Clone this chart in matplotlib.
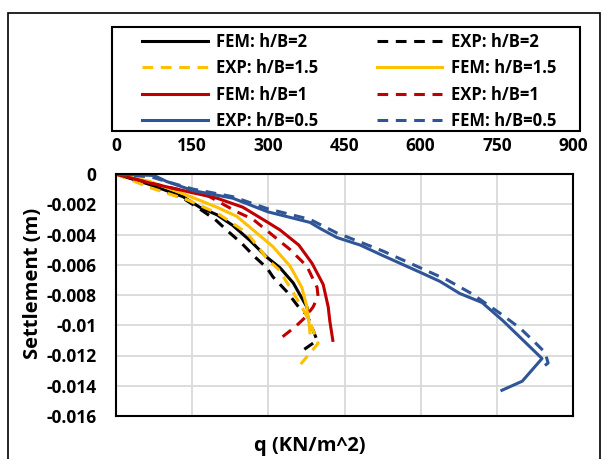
import matplotlib
matplotlib.use("Agg")
import matplotlib.pyplot as plt
from matplotlib.patches import Rectangle

plt.rcParams['font.family'] = ['Open Sans', 'DejaVu Sans']
plt.rcParams['font.weight'] = 'bold'

# ---- data (q in KN/m^2, settlement in m) ----
fem_2_q = [0, 67, 132, 165, 199, 230, 264, 297, 323, 349, 376, 378]
fem_2_s = [0, -0.0007, -0.0015, -0.0022, -0.0027, -0.0034, -0.0044, -0.0055, -0.0062, -0.0072, -0.0088, -0.0091]

exp_2_q = [0, 67, 132, 160, 195, 221, 248, 274, 297, 309, 337, 362, 376, 396, 362]
exp_2_s = [0, -0.0008, -0.0016, -0.0022, -0.0030, -0.0038, -0.0046, -0.0055, -0.0062, -0.0068, -0.0078, -0.0089, -0.0093, -0.0110, -0.0118]

fem_15_q = [0, 67, 132, 199, 238, 270, 309, 343, 366, 376, 380, 382]
fem_15_s = [0, -0.0005, -0.0013, -0.0022, -0.0028, -0.0037, -0.0048, -0.0061, -0.0075, -0.0088, -0.0098, -0.0105]

exp_15_q = [0, 67, 140, 200, 258, 284, 300, 320, 343, 366, 382, 398, 358]
exp_15_s = [0, -0.0009, -0.0017, -0.0026, -0.0039, -0.0050, -0.0057, -0.0063, -0.0075, -0.0088, -0.0098, -0.0112, -0.0128]

fem_1_q = [0, 67, 146, 199, 250, 299, 323, 360, 386, 408, 418, 421, 427]
fem_1_s = [0, -0.0006, -0.0012, -0.0016, -0.0022, -0.0032, -0.0037, -0.0047, -0.0059, -0.0073, -0.0088, -0.0097, -0.0110]

exp_1_q = [0, 67, 120, 179, 238, 270, 303, 343, 376, 396, 398, 388, 372, 353, 319]
exp_1_s = [0, -0.0006, -0.0010, -0.0014, -0.0025, -0.0030, -0.0039, -0.0050, -0.0061, -0.0075, -0.0081, -0.0088, -0.0095, -0.0101, -0.0110]

exp_05_q = [0, 75, 100, 152, 230, 299, 382, 402, 435, 481, 526, 599, 638, 677, 721, 762, 839, 800, 760]
exp_05_s = [0, -0.0001, -0.0005, -0.0011, -0.0016, -0.0025, -0.0032, -0.0036, -0.0042, -0.0047, -0.0054, -0.0065, -0.0071, -0.0079, -0.0085, -0.0097, -0.0122, -0.0137, -0.0143]

fem_05_q = [0, 70, 100, 152, 230, 299, 382, 435, 481, 526, 599, 652, 700, 756, 796, 821, 845, 851, 839]
fem_05_s = [0, -0.0002, -0.0005, -0.0010, -0.0015, -0.0023, -0.0030, -0.0039, -0.0045, -0.0051, -0.0062, -0.0070, -0.0079, -0.0092, -0.0102, -0.0110, -0.0118, -0.0125, -0.0128]

x_ticks = [0, 150, 300, 450, 600, 750, 900]
y_ticks = [0, -0.002, -0.004, -0.006, -0.008, -0.010, -0.012, -0.014, -0.016]
y_tick_labels = ['0', '-0.002', '-0.004', '-0.006', '-0.008', '-0.01', '-0.012', '-0.014', '-0.016']

BLACK = '#000000'
YELLOW = '#FFC000'
RED = '#C00000'
BLUE = '#2F5597'
LW = 2.2
DASH = (3.5, 2.5)

W, H = 603, 459
fig = plt.figure(figsize=(W / 100, H / 100), dpi=100)

def fx(px):
    return px / W

def fy(py):
    return 1 - py / H

# outer frame
fig.patches.append(Rectangle((fx(8), fy(470)), fx(600) - fx(8), fy(13) - fy(470),
                             transform=fig.transFigure, fill=False, edgecolor='black', lw=1.2))

ax = fig.add_axes([fx(116), fy(416), fx(573) - fx(116), fy(174) - fy(416)])

series = [
    (fem_2_q, fem_2_s, BLACK, '-', 'FEM: h/B=2'),
    (exp_2_q, exp_2_s, BLACK, '--', 'EXP: h/B=2'),
    (exp_15_q, exp_15_s, YELLOW, '--', 'EXP: h/B=1.5'),
    (fem_15_q, fem_15_s, YELLOW, '-', 'FEM: h/B=1.5'),
    (fem_1_q, fem_1_s, RED, '-', 'FEM: h/B=1'),
    (exp_1_q, exp_1_s, RED, '--', 'EXP: h/B=1'),
    (exp_05_q, exp_05_s, BLUE, '-', 'EXP: h/B=0.5'),
    (fem_05_q, fem_05_s, BLUE, '--', 'FEM: h/B=0.5'),
]

handles = {}
for q, s, c, ls, lab in series:
    if ls == '--':
        ln, = ax.plot(q, s, color=c, lw=LW, dashes=DASH, label=lab)
    else:
        ln, = ax.plot(q, s, color=c, lw=LW, label=lab)
    handles[lab] = ln

ax.set_xlim(0, 900)
ax.set_ylim(-0.016, 0)
ax.set_xticks(x_ticks)
ax.set_yticks(y_ticks)
ax.set_yticklabels(y_tick_labels)
ax.xaxis.tick_top()
ax.tick_params(axis='both', length=0, labelsize=12.5)
ax.tick_params(axis='x', pad=14)
ax.tick_params(axis='y', pad=14)
for lab in ax.get_xticklabels() + ax.get_yticklabels():
    lab.set_fontweight('bold')
ax.grid(True, color='#d9d9d9', lw=1.3)
ax.set_axisbelow(True)
for sp in ax.spines.values():
    sp.set_color('black')
    sp.set_linewidth(1.5)

fig.text(fx(310), fy(446), 'q (KN/m^2)', ha='center', va='center', fontsize=14.5, fontweight='bold')
fig.text(fx(33), fy(283), 'Settlement (m)', ha='center', va='center', rotation=90,
         fontsize=14.5, fontweight='bold')

# legend box
fig.patches.append(Rectangle((fx(112), fy(131)), fx(580) - fx(112), fy(27) - fy(131),
                             transform=fig.transFigure, fill=False, edgecolor='black', lw=1.5))
order = ['FEM: h/B=2', 'EXP: h/B=1.5', 'FEM: h/B=1', 'EXP: h/B=0.5',
         'EXP: h/B=2', 'FEM: h/B=1.5', 'EXP: h/B=1', 'FEM: h/B=0.5']
leg = fig.legend([handles[k] for k in order], order, ncol=2, frameon=False,
                 loc='upper left', bbox_to_anchor=(fx(142), fy(33)),
                 borderpad=0, borderaxespad=0, handlelength=3.95, handletextpad=0.5,
                 columnspacing=3.5, labelspacing=0.5,
                 prop={'weight': 'bold', 'size': 12})

fig.savefig('out.png', dpi=100)
